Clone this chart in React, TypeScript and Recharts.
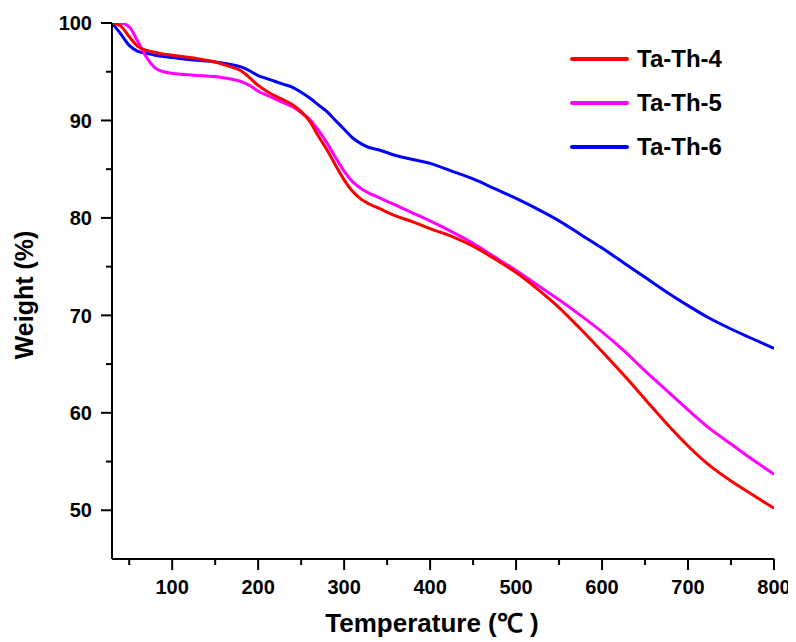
import { Label, Legend, Line, LineChart, XAxis, YAxis } from "recharts";

// TGA curves, weight (%) at each temperature (°C)
const temperature = [
  30, 40, 50, 60, 70, 80, 90, 100, 125, 150, 165, 180, 190, 200, 210, 220, 230, 240, 250, 260,
  270, 280, 290, 300, 310, 320, 330, 340, 360, 380, 400, 425, 450, 475, 500, 525, 550, 575, 600,
  625, 650, 675, 700, 725, 750, 775, 800,
];
const taTh4 = [
  100, 99.7, 98.6, 97.6, 97.2, 97.0, 96.8, 96.7, 96.4, 96.0, 95.6, 95.1, 94.4, 93.6, 93.0, 92.5,
  92.1, 91.6, 90.9, 89.9, 88.4, 87.0, 85.4, 83.9, 82.7, 81.9, 81.4, 81.0, 80.2, 79.6, 78.9, 78.1,
  77.1, 75.8, 74.4, 72.7, 70.8, 68.6, 66.3, 63.9, 61.4, 58.9, 56.6, 54.6, 53.0, 51.6, 50.2,
];
const taTh5 = [
  100, 100, 99.6, 98.1, 96.5, 95.4, 95.0, 94.85, 94.65, 94.5, 94.3, 94.0, 93.6, 93.0, 92.6, 92.2,
  91.8, 91.4, 90.8, 90.1, 89.0, 87.7, 86.2, 84.8, 83.7, 83.0, 82.5, 82.1, 81.3, 80.5, 79.7, 78.6,
  77.4, 76.0, 74.6, 73.1, 71.6, 70.0, 68.3, 66.4, 64.3, 62.3, 60.3, 58.4, 56.8, 55.2, 53.7,
];
const taTh6 = [
  100, 98.9, 97.7, 97.1, 96.9, 96.7, 96.55, 96.45, 96.2, 96.0, 95.8, 95.5, 95.1, 94.6, 94.3, 94.0,
  93.7, 93.4, 92.9, 92.3, 91.6, 90.9, 90.0, 89.1, 88.2, 87.6, 87.2, 87.0, 86.4, 86.0, 85.6, 84.8,
  84.0, 83.0, 82.0, 80.9, 79.7, 78.3, 76.9, 75.4, 73.9, 72.4, 71.0, 69.7, 68.6, 67.6, 66.6,
];

const xTicks = [50, 100, 150, 200, 250, 300, 350, 400, 450, 500, 550, 600, 650, 700, 750, 800];
const yTicks = [50, 55, 60, 65, 70, 75, 80, 85, 90, 95, 100];

const series = [
  { key: "th4", name: "Ta-Th-4", color: "#ff0000" },
  { key: "th5", name: "Ta-Th-5", color: "#ff00ff" },
  { key: "th6", name: "Ta-Th-6", color: "#0000ff" },
];

const data = temperature.map((t, i) => ({ t, th4: taTh4[i], th5: taTh5[i], th6: taTh6[i] }));

const FONT = '"Liberation Sans", Arial, sans-serif';

// tickSize/tickMargin are 0, so x/y here sit right on the axis line
const XTick = ({ x, y, payload }: any) => {
  const major = payload.value % 100 === 0;
  return (
    <g>
      <line x1={x} y1={y} x2={x} y2={y + (major ? 11 : 6)} stroke="#000" strokeWidth={2} />
      {major && (
        <text x={x} y={y + 35} textAnchor="middle" fontFamily={FONT} fontWeight={700} fontSize={20} fill="#000">
          {payload.value}
        </text>
      )}
    </g>
  );
};

const YTick = ({ x, y, payload }: any) => {
  const major = payload.value % 10 === 0;
  return (
    <g>
      <line x1={x} y1={y} x2={x - (major ? 11 : 6)} y2={y} stroke="#000" strokeWidth={2} />
      {major && (
        <text x={x - 20} y={y} dy="0.36em" textAnchor="end" fontFamily={FONT} fontWeight={700} fontSize={20} fill="#000">
          {payload.value}
        </text>
      )}
    </g>
  );
};

const LegendBox = () => (
  <div style={{ fontFamily: FONT, fontWeight: 700, fontSize: 24, color: "#000" }}>
    {series.map((s) => (
      <div key={s.key} style={{ display: "flex", alignItems: "center", height: 44 }}>
        <div style={{ width: 59, height: 4, background: s.color, borderRadius: 2, marginRight: 8 }} />
        <span>{s.name}</span>
      </div>
    ))}
  </div>
);

export default function App() {
  return (
    <div style={{ width: 788, height: 634, background: "#fff" }}>
      <LineChart width={788} height={634} data={data} margin={{ top: 15, right: 22, left: 0, bottom: 0 }}>
        <XAxis
          dataKey="t"
          type="number"
          domain={[30, 800]}
          ticks={xTicks}
          interval={0}
          allowDataOverflow
          height={83}
          tickSize={0}
          tickMargin={0}
          tickLine={false}
          axisLine={{ stroke: "#000", strokeWidth: 2 }}
          tick={<XTick />}
        >
          <Label
            content={() => (
              <text x={424} y={624} textAnchor="middle" fontFamily={FONT} fontWeight={700} fontSize={26} fill="#000">
                Temperature (℃ )
              </text>
            )}
          />
        </XAxis>
        <YAxis
          type="number"
          domain={[45, 100]}
          ticks={yTicks}
          interval={0}
          allowDataOverflow
          width={104}
          tickSize={0}
          tickMargin={0}
          tickLine={false}
          axisLine={{ stroke: "#000", strokeWidth: 2 }}
          tick={<YTick />}
        >
          <Label
            content={() => (
              <text
                x={25}
                y={287}
                transform="rotate(-90 25 287)"
                textAnchor="middle"
                fontFamily={FONT}
                fontWeight={700}
                fontSize={25}
                fill="#000"
              >
                Weight (%)
              </text>
            )}
          />
        </YAxis>
        <Legend
          layout="horizontal"
          verticalAlign="middle"
          align="center"
          content={<LegendBox />}
          wrapperStyle={{ left: 562, top: 29, width: 220 }}
        />
        {[...series].reverse().map((s) => (
          <Line
            key={s.key}
            dataKey={s.key}
            name={s.name}
            type="monotone"
            stroke={s.color}
            strokeWidth={3}
            dot={false}
            activeDot={false}
            isAnimationActive={false}
          />
        ))}
      </LineChart>
    </div>
  );
}
